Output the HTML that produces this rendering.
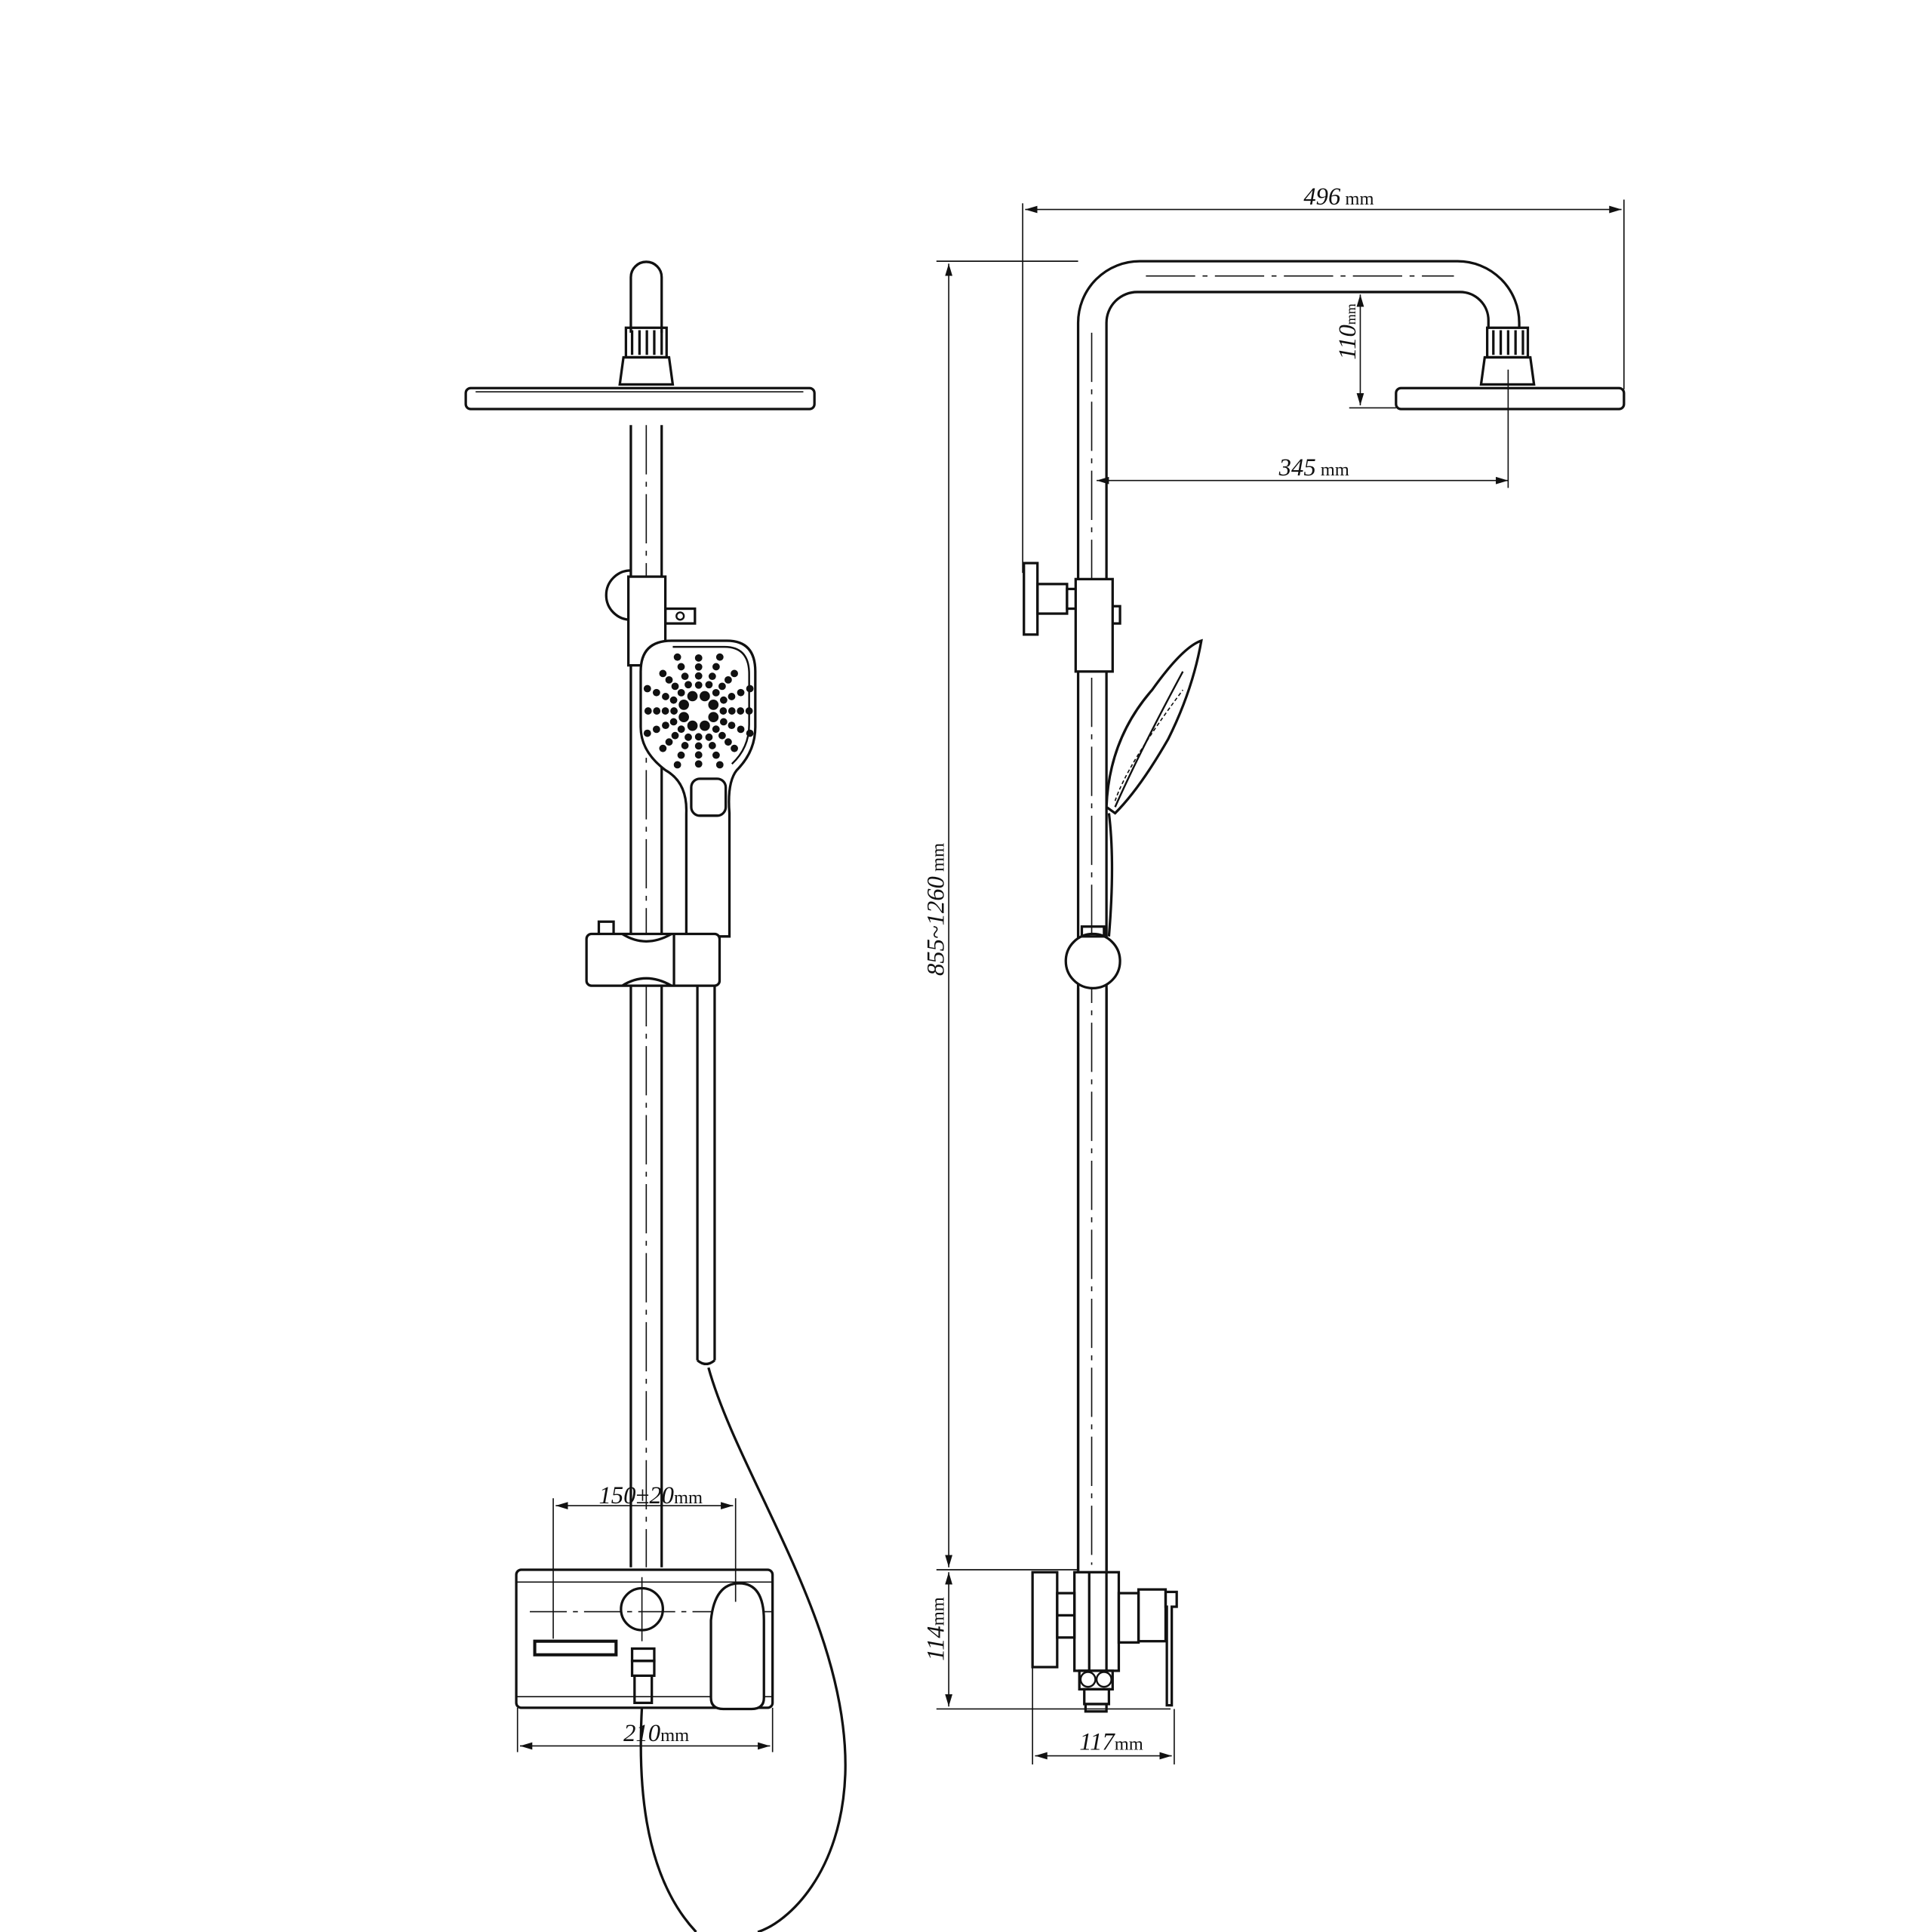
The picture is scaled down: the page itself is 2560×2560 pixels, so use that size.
<!DOCTYPE html>
<html><head><meta charset="utf-8"><style>
html,body{margin:0;padding:0;background:#fff;}
svg{display:block;}
text{font-family:"Liberation Serif",serif;font-style:italic;fill:#111;}
.u{font-style:normal;}
</style></head><body>
<svg id="s" width="2560" height="2560" viewBox="0 0 1568 1568" xmlns="http://www.w3.org/2000/svg">
<defs>
<marker id="a" viewBox="0 0 10 6" refX="10" refY="3" markerWidth="10" markerHeight="6" orient="auto-start-reverse" markerUnits="userSpaceOnUse"><path d="M0,0L10,3L0,6z" fill="#111"/></marker>
</defs>
<g fill="none" stroke="#111" stroke-width="2">
<!-- FRONT VIEW -->
<path d="M512,270V225a12.5,12.5 0 0 1 25,0V270"/>
<rect x="508" y="266" width="33" height="24"/>
<line x1="513" y1="268" x2="513" y2="288"/><line x1="519" y1="268" x2="519" y2="288"/><line x1="525" y1="268" x2="525" y2="288"/><line x1="531" y1="268" x2="531" y2="288"/><line x1="537" y1="268" x2="537" y2="288"/>
<path d="M506,290H543L546,312H503Z"/>
<rect x="378" y="315" width="283" height="17" rx="4"/>
<line x1="386" y1="318" x2="652" y2="318" stroke-width="1"/>
<line x1="512" y1="345" x2="512" y2="1272"/><line x1="537" y1="345" x2="537" y2="1272"/>
<line x1="524.5" y1="345" x2="524.5" y2="1272" stroke-width="1" stroke-dasharray="40 6 4 6"/>
<path d="M512,463a20,20 0 0 0 0,40"/>
<rect x="510" y="468" width="30" height="72" fill="#fff"/>
<rect x="540" y="494" width="24" height="12"/>
<circle cx="552" cy="500" r="3" stroke-width="1.5"/>
<path d="M545,520H590Q613,520 613,545V590Q613,610 598,625Q590,635 592,660V760H557V660Q558,635 540,625Q520,610 520,590V545Q520,520 545,520Z" fill="#fff"/>
<path d="M546,525H588Q608,525 608,547V588Q608,607 594,620" stroke-width="1.5"/>
<rect x="561" y="632" width="28" height="30" rx="7"/>
<g id="dots" fill="#111" stroke="none"></g>
<rect x="476" y="758" width="108" height="42" rx="4" fill="#fff"/>
<path d="M505,758Q524,770 545,758M505,800Q524,788 545,800"/>
<line x1="547" y1="758" x2="547" y2="800"/>
<path d="M486,758V748H498V758"/>
<line x1="566" y1="800" x2="566" y2="1104"/><line x1="580" y1="800" x2="580" y2="1104"/>
<path d="M566,1104Q573,1110 580,1104"/>
<path d="M575,1110C600,1200 690,1320 686,1440C683,1520 640,1560 615,1568"/>
<path d="M521,1385C518,1440 520,1520 565,1568"/>
<rect x="419" y="1274" width="208" height="112" rx="4" fill="#fff"/>
<line x1="419" y1="1284" x2="627" y2="1284" stroke-width="1"/>
<line x1="419" y1="1377" x2="627" y2="1377" stroke-width="1"/>
<line x1="430" y1="1308" x2="627" y2="1308" stroke-width="1" stroke-dasharray="30 5 4 5"/>
<circle cx="521" cy="1306" r="17"/>
<line x1="521" y1="1280" x2="521" y2="1332" stroke-width="1"/>
<path d="M577,1378V1315Q580,1285 600,1285Q620,1285 620,1315V1378Q620,1387 610,1387H587Q577,1387 577,1378Z" fill="#fff"/>
<path d="M434,1332H500V1343H434Z" stroke-width="2.5"/>
<rect x="513" y="1338" width="18" height="10"/>
<path d="M513,1348h18v12h-18z M515,1360v22h14v-22"/>
<!-- SIDE VIEW -->
<path d="M875,1275V262A50,50 0 0 1 925,212H1183A50,50 0 0 1 1233,262V266"/>
<path d="M898,1275V262A25,25 0 0 1 923,237H1185A23,23 0 0 1 1208,260V266"/>
<line x1="886" y1="270" x2="886" y2="1270" stroke-width="1" stroke-dasharray="40 6 4 6"/>
<line x1="930" y1="224" x2="1180" y2="224" stroke-width="1" stroke-dasharray="40 6 4 6"/>
<rect x="1207" y="266" width="33" height="24"/>
<line x1="1212" y1="268" x2="1212" y2="288"/><line x1="1218" y1="268" x2="1218" y2="288"/><line x1="1224" y1="268" x2="1224" y2="288"/><line x1="1230" y1="268" x2="1230" y2="288"/><line x1="1236" y1="268" x2="1236" y2="288"/>
<path d="M1205,290H1242L1245,312H1202Z"/>
<rect x="1133" y="315" width="185" height="17" rx="4"/>
<rect x="831" y="457" width="11" height="58"/>
<rect x="842" y="474" width="24" height="24"/>
<rect x="866" y="478" width="9" height="16"/>
<rect x="873" y="470" width="30" height="75" fill="#fff"/>
<path d="M903,492h6v14h-6"/>
<path d="M898,655Q900,600 935,560Q960,525 975,520Q968,560 948,600Q925,640 905,660Z" fill="#fff"/>
<path d="M905,655Q925,610 960,545" stroke-width="1.5"/>
<path d="M905,650Q915,620 960,560" stroke-width="1" stroke-dasharray="3 2"/>
<path d="M900,660Q905,700 900,760"/>
<circle cx="887" cy="780" r="22" fill="#fff"/>
<rect x="878" y="752" width="18" height="8"/>
<line x1="875" y1="802" x2="875" y2="1275"/><line x1="898" y1="802" x2="898" y2="1275"/>
<rect x="838" y="1276" width="20" height="77"/>
<rect x="858" y="1293" width="14" height="36"/>
<line x1="858" y1="1311" x2="872" y2="1311"/>
<rect x="872" y="1276" width="36" height="80"/>
<line x1="884" y1="1276" x2="884" y2="1356"/><line x1="898" y1="1276" x2="898" y2="1356"/>
<rect x="908" y="1293" width="16" height="40"/>
<rect x="924" y="1290" width="22" height="42"/>
<path d="M946,1292h9v12h-4v80h-4v-80h-1z"/>
<rect x="876" y="1356" width="27" height="15"/>
<circle cx="883" cy="1363" r="6" stroke-width="1.5"/><circle cx="896" cy="1363" r="6" stroke-width="1.5"/>
<rect x="880" y="1371" width="20" height="12"/><rect x="881" y="1383" width="17" height="6"/>
</g>
<g fill="none" stroke="#111" stroke-width="1">
<line x1="830" y1="165" x2="830" y2="465"/><line x1="1318" y1="162" x2="1318" y2="316"/>
<line x1="832" y1="170" x2="1316" y2="170" marker-start="url(#a)" marker-end="url(#a)"/>
<line x1="890" y1="390" x2="1224" y2="390" marker-start="url(#a)" marker-end="url(#a)"/>
<line x1="1224" y1="300" x2="1224" y2="396"/>
<line x1="1095" y1="237" x2="1115" y2="237"/><line x1="1095" y1="331" x2="1133" y2="331"/>
<line x1="1104" y1="239" x2="1104" y2="329" marker-start="url(#a)" marker-end="url(#a)"/>
<line x1="760" y1="212" x2="875" y2="212"/>
<line x1="760" y1="1274" x2="875" y2="1274"/>
<line x1="760" y1="1387" x2="950" y2="1387"/>
<line x1="770" y1="214" x2="770" y2="1272" marker-start="url(#a)" marker-end="url(#a)"/>
<line x1="770" y1="1276" x2="770" y2="1385" marker-start="url(#a)" marker-end="url(#a)"/>
<line x1="838" y1="1353" x2="838" y2="1432"/><line x1="953" y1="1387" x2="953" y2="1432"/>
<line x1="840" y1="1425" x2="951" y2="1425" marker-start="url(#a)" marker-end="url(#a)"/>
<line x1="449" y1="1216" x2="449" y2="1330"/><line x1="597" y1="1216" x2="597" y2="1300"/>
<line x1="451" y1="1222" x2="595" y2="1222" marker-start="url(#a)" marker-end="url(#a)"/>
<line x1="420" y1="1386" x2="420" y2="1422"/><line x1="627" y1="1386" x2="627" y2="1422"/>
<line x1="422" y1="1417" x2="625" y2="1417" marker-start="url(#a)" marker-end="url(#a)"/>
</g>
<text x="1058" y="166" font-size="20">496<tspan class="u" font-size="15"> mm</tspan></text>
<text x="1038" y="386" font-size="20">345<tspan class="u" font-size="15"> mm</tspan></text>
<text transform="translate(1100,292) rotate(-90)" font-size="20">110<tspan class="u" font-size="11">mm</tspan></text>
<text transform="translate(766,792) rotate(-90)" font-size="20">855~1260<tspan class="u" font-size="15"> mm</tspan></text>
<text transform="translate(766,1348) rotate(-90)" font-size="20">114<tspan class="u" font-size="15">mm</tspan></text>
<text x="876" y="1420" font-size="20">117<tspan class="u" font-size="15">mm</tspan></text>
<text x="486" y="1220" font-size="20">150±20<tspan class="u" font-size="15">mm</tspan></text>
<text x="506" y="1413" font-size="20">210<tspan class="u" font-size="15">mm</tspan></text>
</svg>
<script>
(function(){var g=document.getElementById('dots'),cx=567,cy=577,h='';
for(var i=0;i<8;i++){var a=i*Math.PI/4+Math.PI/8;h+='<circle cx="'+(cx+13*Math.cos(a)).toFixed(1)+'" cy="'+(cy+13*Math.sin(a)).toFixed(1)+'" r="4.2"/>';}
for(var i=0;i<16;i++){var a=i*Math.PI/8;var rr=(i%2)?[22,29,37,45]:[20,27,34,41];
for(var j=0;j<rr.length;j++){var r=rr[j];var x=cx+r*Math.cos(a),y=cy+r*Math.sin(a)*1.05;h+='<circle cx="'+x.toFixed(1)+'" cy="'+y.toFixed(1)+'" r="3"/>';}}
g.innerHTML=h;})();
</script>
</body></html>
